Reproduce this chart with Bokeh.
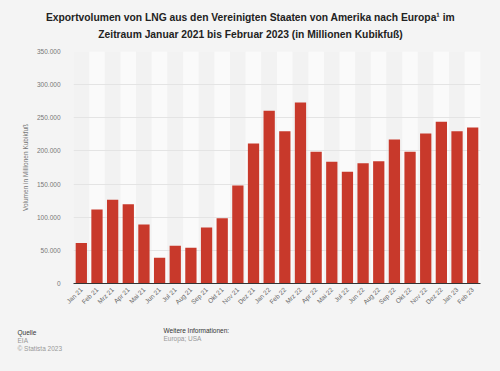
import math
from bokeh.plotting import figure
from bokeh.layouts import column
from bokeh.models import ColumnDataSource, FixedTicker, Range1d
from bokeh.core.properties import value
from bokeh.embed import file_html
from bokeh.resources import INLINE

months = ["Jan 21", "Feb 21", "Mrz 21", "Apr 21", "Mai 21", "Jun 21", "Jul 21", "Aug 21",
          "Sep 21", "Okt 21", "Nov 21", "Dez 21", "Jan 22", "Feb 22", "Mrz 22", "Apr 22",
          "Mai 22", "Jul 22", "Jun 22", "Aug 22", "Sep 22", "Okt 22", "Nov 22", "Dez 22",
          "Jan 23", "Feb 23"]
volumes = [61000, 111600, 126200, 119700, 89000, 38700, 56800, 53800,
           84500, 98500, 147800, 211200, 260500, 229800, 273000, 198600,
           183500, 168500, 181500, 184500, 217200, 198600, 226300, 243900,
           229800, 235300]
y_ticks = [0, 50000, 100000, 150000, 200000, 250000, 300000, 350000]
y_tick_labels = ["0", "50.000", "100.000", "150.000", "200.000", "250.000", "300.000", "350.000"]

title_lines = ["Exportvolumen von LNG aus den Vereinigten Staaten von Amerika nach Europa\u00b9 im",
               "Zeitraum Januar 2021 bis Februar 2023 (in Millionen Kubikfuß)"]
footer_left = ["Quelle", "EIA", "© Statista 2023"]
footer_right = ["Weitere Informationen:", "Europa; USA"]

FONT = "Liberation Sans"
BG = "#f4f4f4"
BAR = "#c8392b"
W = 500


def blank(h, y0):
    f = figure(width=W, height=h, x_range=Range1d(0, W), y_range=Range1d(y0 + h, y0),
               output_backend="svg", toolbar_location=None, min_border=0, frame_align=False)
    f.background_fill_color = BG
    f.border_fill_color = BG
    f.outline_line_color = None
    f.axis.visible = False
    f.grid.visible = False
    return f


# ---- title ----
TH = 46
t = blank(TH, 0)
t.text(x=[250, 250], y=[17, 34], text=title_lines, text_font=value(FONT),
       text_font_size="10.3px", text_font_style="bold", text_color="#222222",
       text_align="center", text_baseline="middle")

# ---- main chart ----
MH = 275
p = figure(x_range=months, y_range=(0, 350000), width=W, height=MH,
           output_backend="svg", toolbar_location=None, frame_align=False,
           min_border_left=73, min_border_right=20, min_border_top=5, min_border_bottom=38)
p.background_fill_color = BG
p.border_fill_color = BG
p.outline_line_color = None

stripe_colors = ["#f2f2f2" if i % 2 == 0 else "#fafafa" for i in range(len(months))]
stripes = ColumnDataSource(dict(x=months, top=[350000] * len(months), c=stripe_colors))
sr = p.vbar(x="x", top="top", width=1.0, source=stripes, fill_color="c", line_color=None)
sr.level = "image"

src = ColumnDataSource(dict(x=months, top=volumes))
p.vbar(x="x", top="top", width=0.72, source=src, fill_color=BAR, line_color=None)

p.xgrid.grid_line_color = None
p.ygrid.grid_line_color = "#e4e4e4"
p.ygrid.grid_line_width = 1
p.ygrid.level = "underlay"
p.ygrid.ticker = FixedTicker(ticks=y_ticks)

p.yaxis.ticker = FixedTicker(ticks=y_ticks)
p.yaxis.major_label_overrides = {t_: l for t_, l in zip(y_ticks, y_tick_labels)}
p.yaxis.axis_line_color = None
p.yaxis.major_tick_line_color = None
p.yaxis.minor_tick_line_color = None
p.yaxis.major_tick_out = 0
p.yaxis.minor_tick_out = 0
p.yaxis.major_label_standoff = 13
p.yaxis.major_label_text_font = FONT
p.yaxis.major_label_text_font_size = "6.5px"
p.yaxis.major_label_text_color = "#777777"
p.yaxis.axis_label = "Volumen in Millionen Kubikfuß"
p.yaxis.axis_label_text_font = FONT
p.yaxis.axis_label_text_font_size = "6.5px"
p.yaxis.axis_label_text_font_style = "normal"
p.yaxis.axis_label_text_color = "#777777"
p.yaxis.axis_label_standoff = 5

p.xaxis.axis_line_color = "#333333"
p.xaxis.axis_line_width = 1
p.xaxis.major_tick_line_color = None
p.xaxis.minor_tick_line_color = None
p.xaxis.major_tick_out = 0
p.xaxis.minor_tick_out = 0
p.xaxis.major_label_orientation = math.pi / 4
p.xaxis.major_label_standoff = 5
p.xaxis.major_label_text_font = FONT
p.xaxis.major_label_text_font_size = "6.5px"
p.xaxis.major_label_text_color = "#666666"

# ---- footer ----
FH = 371 - TH - MH
y0 = TH + MH
ft = blank(FH, y0)
ft.text(x=[17, 17, 17], y=[332, 340, 348], text=footer_left, text_font=value(FONT),
        text_font_size="6.5px", text_color=["#333333", "#999999", "#999999"],
        text_align="left", text_baseline="middle")
ft.text(x=[163, 163], y=[330, 338], text=footer_right, text_font=value(FONT),
        text_font_size="6.5px", text_color=["#333333", "#999999"],
        text_align="left", text_baseline="middle")

layout = column(t, p, ft, spacing=0)
layout.styles = {"background-color": BG}
open("out.html", "w").write(file_html(layout, INLINE))
